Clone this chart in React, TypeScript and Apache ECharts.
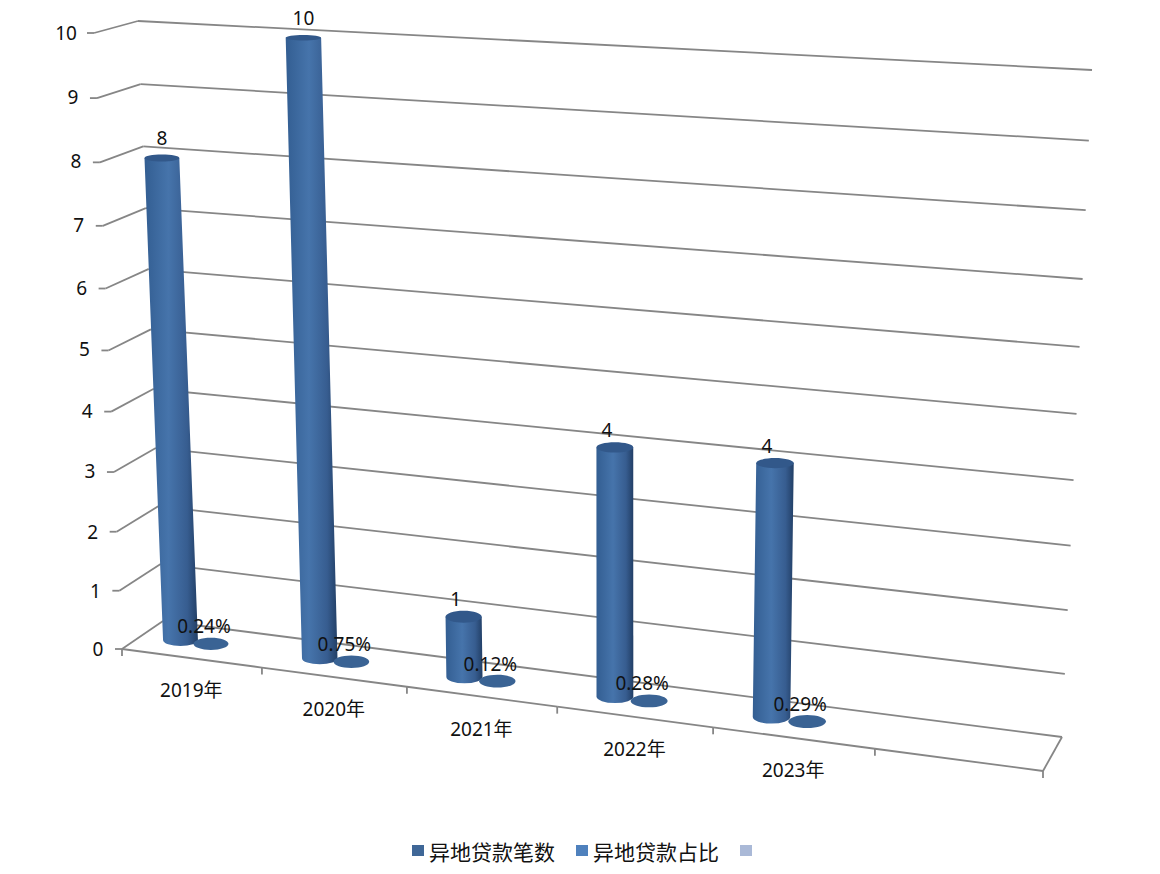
import React, { useEffect, useRef } from "react";
import * as echarts from "echarts";

const categories = ["2019年", "2020年", "2021年", "2022年", "2023年", ""];
const loanCounts = [8, 10, 1, 4, 4];
const loanShares = [0.0024, 0.0075, 0.0012, 0.0028, 0.0029];
const valueTicks = [0, 1, 2, 3, 4, 5, 6, 7, 8, 9, 10];
const categoryEdges = [0, 1, 2, 3, 4, 5, 6];
const seriesNames = ["异地贷款笔数", "异地贷款占比", " "];
const seriesColors = ["#3f6797", "#4f81bd", "#aab9d7"];

const GRID = { left: 100, top: 100, width: 600, height: 600 };
const LINE = "#868686";
const FONT = "'Noto Sans','Noto Sans CJK SC',sans-serif";

type P = [number, number];

function quadMap(p0: P, p1: P, p2: P, p3: P) {
  const dx1 = p1[0] - p2[0], dx2 = p3[0] - p2[0], sx = p0[0] - p1[0] + p2[0] - p3[0];
  const dy1 = p1[1] - p2[1], dy2 = p3[1] - p2[1], sy = p0[1] - p1[1] + p2[1] - p3[1];
  const den = dx1 * dy2 - dx2 * dy1;
  const g = (sx * dy2 - dx2 * sy) / den;
  const h = (dx1 * sy - sx * dy1) / den;
  const a = p1[0] - p0[0] + g * p1[0], b = p3[0] - p0[0] + h * p3[0], c = p0[0];
  const d = p1[1] - p0[1] + g * p1[1], e = p3[1] - p0[1] + h * p3[1], f = p0[1];
  return (u: number, v: number): P => {
    const w = g * u + h * v + 1;
    return [(a * u + b * v + c) / w, (d * u + e * v + f) / w];
  };
}

// Perspective planes: floor-left, floor-right, top-right, top-left
const backWall = quadMap([163, 621], [1062, 737], [1092, 70], [138, 21]);
const frontPlane = quadMap([122, 649], [1043, 771], [1077, 87], [94, 33]);
const S0 = 0.5 / 6;
const S4 = 4.5 / 6;
const barPlane0 = quadMap([180.5, 640], [771.5, 717], [780.5, 60], [157, 31]);
const barPlane = (s: number, v: number) => barPlane0((s - S0) / (S4 - S0), v);

function norm(pt: number[]) {
  return {
    s: (pt[0] - GRID.left) / GRID.width,
    v: 1 - (pt[1] - GRID.top) / GRID.height,
  };
}

const line = (a: P, b: P, width = 1.8) => ({
  type: "line",
  shape: { x1: a[0], y1: a[1], x2: b[0], y2: b[1] },
  style: { stroke: LINE, lineWidth: width, fill: "none" },
});

const text = (t: string, x: number, y: number, size = 19) => ({
  type: "text",
  style: {
    text: t, x, y, fill: "#111", fontSize: size, fontFamily: FONT,
    align: "center", verticalAlign: "middle",
  },
});

const radiusX = (x: number) => 17.4 + (x - 160) * 0.0022;
const radiusY = (y: number) => 2.6 + y * 0.0055;

const bodyFill = () =>
  new echarts.graphic.LinearGradient(0, 0, 1, 0, [
    { offset: 0, color: "#335e92" },
    { offset: 0.45, color: "#4674ab" },
    { offset: 0.8, color: "#375d90" },
    { offset: 1, color: "#223f66" },
  ]);

function renderValueTick(_: any, api: any) {
  const v0 = api.value(1);
  const { v } = norm(api.coord([0, v0]));
  const front = frontPlane(0, v);
  const back = backWall(0, v);
  const right = backWall(1, v);
  return {
    type: "group",
    children: [
      line(front, back),
      line(back, right),
      line(front, [front[0] - 7, front[1]]),
      text(String(v0), front[0] - 28 + (v0 === 10 ? 0 : 4), front[1] + (v0 >= 3 && v0 < 10 ? -1 : 0)),
    ],
  };
}

function renderCategoryTick(_: any, api: any) {
  const k = api.value(0);
  const half = api.size([1, 0])[0] / 2;
  const { s } = norm(api.coord([k, 0]));
  const edge = frontPlane(s - half / GRID.width, 0);
  const children: any[] = [line(edge, [edge[0], edge[1] + 7])];
  const next = categories[k];
  if (k < 6) {
    const mid = frontPlane(s, 0);
    if (next) children.push(text(next, mid[0], mid[1] + 32));
    const end = frontPlane(s + half / GRID.width, 0);
    children.push(line(edge, end));
  } else {
    children.push(line(edge, backWall(1, 0)));
  }
  return { type: "group", children };
}

function renderBar(_: any, api: any) {
  const i = api.value(0);
  const value = api.value(1);
  const top = norm(api.coord([i, value]));
  const base = barPlane(top.s, 0);
  const cap = barPlane(top.s, top.v);
  const bx = radiusX(base[0]), by = radiusY(base[1]);
  const tx = radiusX(cap[0]), ty = radiusY(cap[1]);
  const d =
    `M${cap[0] - tx} ${cap[1]} L${base[0] - bx} ${base[1]} ` +
    `A${bx} ${by} 0 0 0 ${base[0] + bx} ${base[1]} L${cap[0] + tx} ${cap[1]} Z`;
  return {
    type: "group",
    children: [
      { type: "path", shape: { pathData: d }, style: { fill: bodyFill() } },
      { type: "ellipse", shape: { cx: cap[0], cy: cap[1], rx: tx, ry: ty }, style: { fill: "#32588a" } },
      text(String(value), cap[0] + (value > 5 ? 0 : -8), cap[1] + (value > 5 ? -20 : -17.5)),
    ],
  };
}

function renderDisc(_: any, api: any) {
  const i = api.value(0);
  const value = api.value(1);
  const top = norm(api.coord([i, value]));
  const c = barPlane(top.s + 0.222 / 6, top.v);
  return {
    type: "group",
    children: [
      { type: "ellipse", shape: { cx: c[0], cy: c[1], rx: radiusX(c[0]), ry: radiusY(c[1]) }, style: { fill: "#3a6394" } },
      text((value * 100).toFixed(2) + "%", c[0] - 7, c[1] - 17.5),
    ],
  };
}

export default function App() {
  const ref = useRef<HTMLDivElement>(null);
  useEffect(() => {
    const chart = echarts.init(ref.current!, undefined, { renderer: "svg" });
    chart.setOption({
      animation: false,
      backgroundColor: "#fff",
      grid: GRID,
      xAxis: { type: "category", data: categories, show: false },
      yAxis: { type: "value", min: 0, max: 10, interval: 1, show: false },
      legend: {
        left: 412,
        top: 840,
        icon: "rect",
        itemWidth: 12,
        itemHeight: 11,
        itemGap: 21,
        selectedMode: false,
        padding: 0,
        textStyle: { fontSize: 21, color: "#111", fontFamily: "'Noto Sans CJK SC',sans-serif", padding: [0, 0, 0, 0] },
        data: seriesNames,
      },
      series: [
        {
          type: "custom", name: "valueTicks", z: 1, silent: true,
          data: valueTicks.map((v) => [0, v]),
          renderItem: renderValueTick,
        },
        {
          type: "custom", name: "categoryTicks", z: 1, silent: true,
          data: categoryEdges.map((k) => [k, 0]),
          renderItem: renderCategoryTick,
        },
        {
          type: "custom", name: seriesNames[0], z: 2, silent: true,
          itemStyle: { color: seriesColors[0] },
          data: loanCounts.map((v, i) => [i, v]),
          renderItem: renderBar,
        },
        {
          type: "custom", name: seriesNames[1], z: 3, silent: true,
          itemStyle: { color: seriesColors[1] },
          data: loanShares.map((v, i) => [i, v]),
          renderItem: renderDisc,
        },
        {
          type: "custom", name: seriesNames[2], z: 3, silent: true,
          itemStyle: { color: seriesColors[2] },
          data: [],
          renderItem: () => null,
        },
      ],
    });
    return () => chart.dispose();
  }, []);
  return (
    <div
      ref={ref}
      style={{ position: "absolute", left: 0, top: 0, width: 1160, height: 874, background: "#fff" }}
    />
  );
}
